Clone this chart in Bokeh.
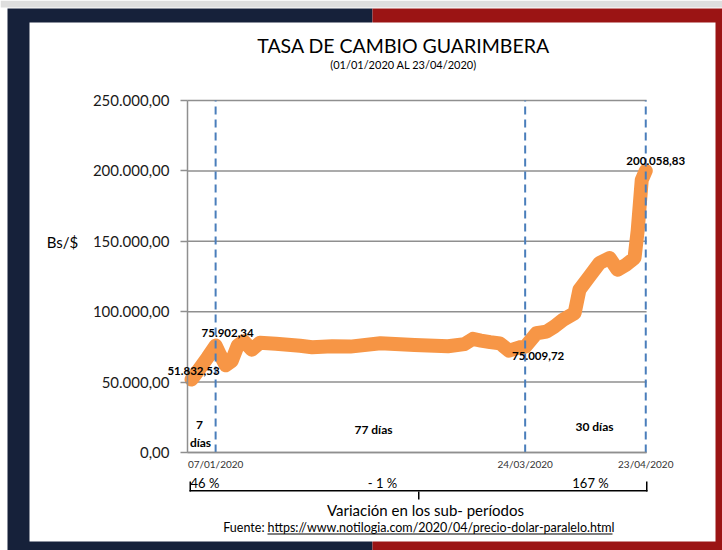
from bokeh.plotting import figure
from bokeh.models import Range1d, FixedTicker, Label, BoxAnnotation
from bokeh.embed import file_html
from bokeh.resources import INLINE

# ---------------- data ----------------
# day index counted from 01/01/2020 (day 0)
days = [0, 2, 4, 6, 7, 8.5, 10, 11.5, 13, 15, 17, 21, 27, 30, 35, 39.5, 47,
        55.5, 63.8, 67.9, 70, 72, 74.3, 76.7, 79, 81.6, 83, 85.8, 88.3, 90.3,
        92.4, 95.3, 96.5, 99, 101.5, 104, 106, 108.1, 110.2, 111, 112, 113]
rates = [51832.53, 59500, 67500, 75902.34, 70000, 62000, 65000, 76000, 79000,
         73000, 78000, 77300, 75800, 74800, 75500, 75200, 77600,
         76400, 75500, 77000, 80700, 79500, 78400, 77500, 72300, 74700,
         75009.72, 84700, 85900, 89500,
         94200, 99000, 115600, 125100, 134600, 138100, 129800, 133400, 138100,
         157800, 193500, 200058.83]

label_days = [0, 6, 83, 113]
label_values = [51832.53, 75902.34, 75009.72, 200058.83]
label_texts = ["51.832,53", "75.902,34", "75.009,72", "200.058,83"]

marker_days = [6, 83, 113]
marker_dates = ["07/01/2020", "24/03/2020", "23/04/2020"]

y_ticks = [0, 50000, 100000, 150000, 200000, 250000]
y_tick_labels = ["0,00", "50.000,00", "100.000,00", "150.000,00",
                 "200.000,00", "250.000,00"]

period_days = ["7", "días", "77 días", "30 días"]
period_changes = ["46 %", "- 1 %", "167 %"]

TITLE = "TASA DE CAMBIO GUARIMBERA"
SUBTITLE = "(01/01/2020 AL 23/04/2020)"
Y_LABEL = "Bs/$"
FOOT_LABEL = "Variación en los sub- períodos"
SOURCE_LABEL = "Fuente:"
SOURCE_URL = "https://www.notilogia.com/2020/04/precio-dolar-paralelo.html"

# ---------------- styling / layout ----------------
NAVY = "#16213a"
RED = "#9b1414"
ORANGE = "#f79646"
BLUE = "#4a7ebb"
GRID = "#8f8f8f"
FONT = "Lato"

W, H = 722, 550
PX_PER_DAY = 4.02          # horizontal scale of the plot area
DAY0_PX = 191              # pixel column of day 0
ZERO_PX = 452              # pixel row of value 0
PX_PER_UNIT = 352 / 250000  # vertical scale
X_START, X_END = -1, 113.2  # extent of the plotting area (days)
Y_TOP = 250000

p = figure(width=W, height=H, output_backend="svg", toolbar_location=None,
           x_range=Range1d(-DAY0_PX / PX_PER_DAY, (W - DAY0_PX) / PX_PER_DAY),
           y_range=Range1d(-(H - ZERO_PX) / PX_PER_UNIT, ZERO_PX / PX_PER_UNIT),
           min_border=0, min_border_left=0, min_border_right=0,
           min_border_top=0, min_border_bottom=0)
try:
    p.title = None
except Exception:
    p.title.visible = False
p.border_fill_color = "white"
p.background_fill_color = "white"
p.outline_line_color = None
p.xgrid.grid_line_color = None
p.ygrid.grid_line_color = None


def cbox(l, r, t, b, color, level="overlay"):
    p.add_layout(BoxAnnotation(left=l, right=r, top=t, bottom=b,
                               left_units="canvas", right_units="canvas",
                               top_units="canvas", bottom_units="canvas",
                               fill_color=color, fill_alpha=1, line_color=None,
                               level=level))


def clabel(x, y, text, size, align="center", bold=False, color="black"):
    p.add_layout(Label(x=x, y=y, text=text, x_units="canvas", y_units="canvas",
                       text_align=align, text_baseline="middle",
                       text_font=FONT, text_font_size=size,
                       text_font_style="bold" if bold else "normal",
                       text_color=color))


# frame backgrounds
cbox(0, W, 0, 7, "#dedede", "image")
cbox(7, 372, 8, H, NAVY, "image")
cbox(372, W, 8, H, RED, "image")
cbox(29, 715, 22, 541, "white", "image")

# axes (fixed inside the canvas)
yax = p.yaxis[0]
yax.fixed_location = X_START
yax.bounds = (0, Y_TOP)
yax.ticker = FixedTicker(ticks=y_ticks)
yax.major_label_overrides = dict(zip(y_ticks, y_tick_labels))
yax.minor_tick_line_color = None
yax.major_tick_in = 0
yax.major_tick_out = 7
yax.major_tick_line_color = GRID
yax.major_tick_line_width = 1.5
yax.axis_line_color = GRID
yax.axis_line_width = 1.5
yax.major_label_standoff = 11
yax.major_label_text_font = FONT
yax.major_label_text_font_size = "15px"
yax.major_label_text_color = "#1a1a1a"

xax = p.xaxis[0]
xax.fixed_location = 0
xax.bounds = (X_START, X_END)
xax.ticker = FixedTicker(ticks=marker_days)
xax.major_label_overrides = dict(zip(marker_days, marker_dates))
xax.minor_tick_line_color = None
xax.major_tick_in = 0
xax.major_tick_out = 0
xax.axis_line_color = GRID
xax.axis_line_width = 1.5
xax.major_label_standoff = 5
xax.major_label_text_font = FONT
xax.major_label_text_font_size = "10px"
xax.major_label_text_color = "#333333"

# horizontal gridlines
p.segment(x0=[X_START] * len(y_ticks), y0=y_ticks,
          x1=[X_END] * len(y_ticks), y1=y_ticks,
          line_color=GRID, line_width=1.5)

# series
p.line(days, rates, line_color=ORANGE, line_width=14,
       line_join="round", line_cap="round")

# dashed period markers
p.segment(x0=marker_days, y0=[0] * len(marker_days),
          x1=marker_days, y1=[Y_TOP] * len(marker_days),
          line_color=BLUE, line_width=2, line_dash="8 5")

# data labels
label_dx = [2, 12, 13, 10]
label_dy = [9, 13, -9, 10]
for d, v, t, dx, dy in zip(label_days, label_values, label_texts, label_dx, label_dy):
    p.add_layout(Label(x=d, y=v, text=t, x_offset=dx, y_offset=dy,
                       text_align="center", text_baseline="middle",
                       text_font=FONT, text_font_style="bold",
                       text_font_size="11.5px", text_color="black"))

# titles
clabel(403, 45, TITLE, "19.5px")
clabel(403, 64, SUBTITLE, "11px")
clabel(62, 241, Y_LABEL, "15px")

# period day counts
clabel(199, 424, period_days[0], "12px", bold=True)
clabel(200, 442, period_days[1], "12px", bold=True)
clabel(373, 429, period_days[2], "12px", bold=True)
clabel(594, 426, period_days[3], "12px", bold=True)

# period changes
clabel(190, 482, period_changes[0], "13px", align="left")
clabel(382, 482, period_changes[1], "13px")
clabel(590, 482, period_changes[2], "13px")

# bracket
cbox(189, 190.5, 481, 491, "black")
cbox(189, 647, 489.5, 491, "black")
cbox(645.5, 647, 481, 491, "black")
cbox(417.5, 419, 491, 499, "black")

clabel(425, 509, FOOT_LABEL, "15px")
clabel(264, 527, SOURCE_LABEL, "12.5px", align="right")
clabel(267, 527, SOURCE_URL, "12.5px", align="left")
cbox(267, 612, 533, 534, "black")

open("out.html", "w").write(file_html(p, INLINE))
